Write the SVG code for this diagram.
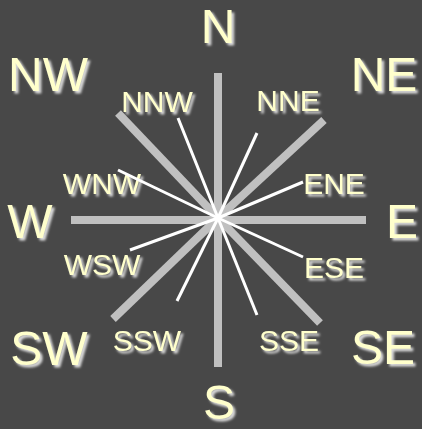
<svg xmlns="http://www.w3.org/2000/svg" width="422" height="429" viewBox="0 0 422 429">
  <defs>
    <filter id="sh" x="-20%" y="-20%" width="150%" height="150%">
      <feDropShadow dx="2.5" dy="2.5" stdDeviation="1.3" flood-color="#ececec" flood-opacity="0.9"/>
    </filter>
  </defs>
  <style>
    text { font-family: "Liberation Sans", Arial, sans-serif; fill: #FFFFCC; text-anchor: middle; filter: url(#sh); }
    .big { font-size: 48px; }
    .small { font-size: 30px; }
    .main { stroke: #C0C0C0; stroke-width: 8; }
    .minor { stroke: #FFFFFF; stroke-width: 3; }
  </style>
  <rect width="422" height="429" fill="#484848"/>
  <g id="labels">
    <g id="N"><text class="big" x="218" y="43">N</text></g>
    <g id="NE"><text class="big" x="384" y="91">NE</text></g>
    <g id="E"><text class="big" x="402" y="238">E</text></g>
    <g id="SE"><text class="big" x="383" y="364">SE</text></g>
    <g id="S"><text class="big" x="219" y="419">S</text></g>
    <g id="SW"><text class="big" x="49" y="365">SW</text></g>
    <g id="W"><text class="big" x="30" y="238">W</text></g>
    <g id="NW"><text class="big" x="48" y="91">NW</text></g>
    <g id="NNW"><text class="small" x="157" y="112">NNW</text></g>
    <g id="NNE"><text class="small" x="288" y="111">NNE</text></g>
    <g id="ENE"><text class="small" x="334" y="194">ENE</text></g>
    <g id="ESE"><text class="small" x="334" y="278">ESE</text></g>
    <g id="SSE"><text class="small" x="289" y="351">SSE</text></g>
    <g id="SSW"><text class="small" x="147" y="351">SSW</text></g>
    <g id="WSW"><text class="small" x="102" y="275">WSW</text></g>
    <g id="WNW"><text class="small" x="102" y="194">WNW</text></g>
  </g>
  <g id="connectors">
    <line class="main" x1="218" y1="73" x2="218" y2="367"/>
    <line class="main" x1="71" y1="220" x2="366" y2="220"/>
    <line class="main" x1="118" y1="113" x2="218" y2="218"/>
    <line class="main" x1="324" y1="120" x2="218" y2="218"/>
    <line class="main" x1="113" y1="319" x2="218" y2="218"/>
    <line class="main" x1="320" y1="323" x2="218" y2="218"/>
    <line class="minor" x1="178" y1="118" x2="218" y2="218"/>
    <line class="minor" x1="257" y1="133" x2="218" y2="218"/>
    <line class="minor" x1="303" y1="182" x2="218" y2="218"/>
    <line class="minor" x1="303" y1="257" x2="218" y2="218"/>
    <line class="minor" x1="257" y1="315" x2="218" y2="218"/>
    <line class="minor" x1="177" y1="301" x2="218" y2="218"/>
    <line class="minor" x1="130" y1="250" x2="218" y2="218"/>
    <line class="minor" x1="118" y1="170" x2="218" y2="218"/>
  </g>
</svg>
